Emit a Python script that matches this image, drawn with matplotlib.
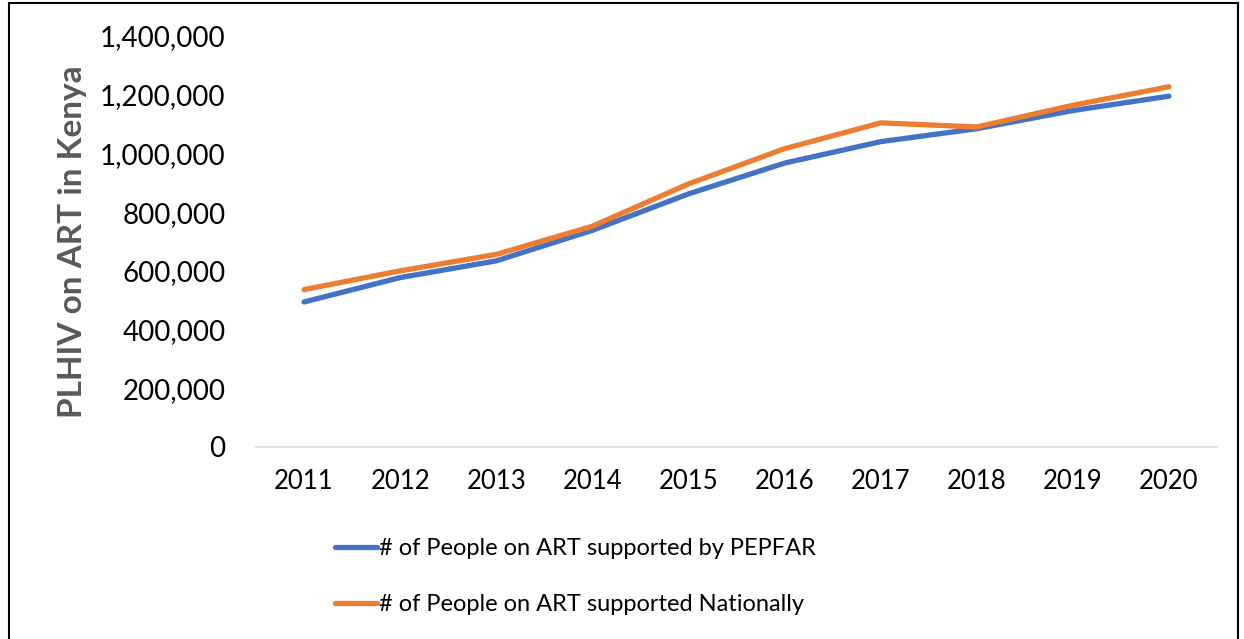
import matplotlib.pyplot as plt
from matplotlib.patches import Rectangle
from matplotlib.ticker import FuncFormatter

plt.rcParams["font.family"] = ["Lato", "DejaVu Sans"]

years = ["2011", "2012", "2013", "2014", "2015", "2016", "2017", "2018", "2019", "2020"]
pepfar = [494000, 577000, 634000, 738000, 862000, 967000, 1040000, 1084000, 1146000, 1195000]
national = [536000, 600000, 656000, 752000, 896000, 1016000, 1104000, 1090000, 1164000, 1227000]

fig = plt.figure(figsize=(12.44, 6.39), dpi=100)
# axes box: baseline at y=447px, top (1.4M) at y=36px
ax = fig.add_axes([0.2058, 0.3005, 0.7725, 0.6432])

x = range(len(years))
ax.plot(x, pepfar, color="#4472C4", lw=3.8, solid_capstyle="round",
        label="# of People on ART supported by PEPFAR")
ax.plot(x, national, color="#ED7D31", lw=3.8, solid_capstyle="round",
        label="# of People on ART supported Nationally")

ax.set_xlim(-0.5, len(years) - 0.5)
ax.set_ylim(0, 1400000)
ax.set_yticks(range(0, 1400001, 200000))
ax.yaxis.set_major_formatter(FuncFormatter(lambda v, _: f"{int(v):,}"))
ax.set_xticks(list(x))
ax.set_xticklabels(years)

for side in ("top", "right", "left"):
    ax.spines[side].set_visible(False)
ax.spines["bottom"].set_color("#D9D9D9")
ax.spines["bottom"].set_linewidth(1.2)
ax.tick_params(axis="both", length=0, colors="#000000")
ax.tick_params(axis="y", labelsize=20, pad=22)
ax.tick_params(axis="x", labelsize=18.5, pad=16)

ax.set_ylabel("PLHIV on ART in Kenya", fontsize=24, fontweight="bold",
              color="#595959", labelpad=9)

fig.legend(loc="upper left", bbox_to_anchor=(0.269, 0.158), frameon=False,
           fontsize=17, handlelength=1.8, handletextpad=0.1, labelspacing=1.5,
           borderaxespad=0, borderpad=0)

# thin frame round the whole figure
fig.patches.append(Rectangle((0.007, -0.01), 0.988, 1.005, transform=fig.transFigure,
                             fill=False, edgecolor="#000000", lw=1.5))

fig.savefig("out.png", dpi=100)
